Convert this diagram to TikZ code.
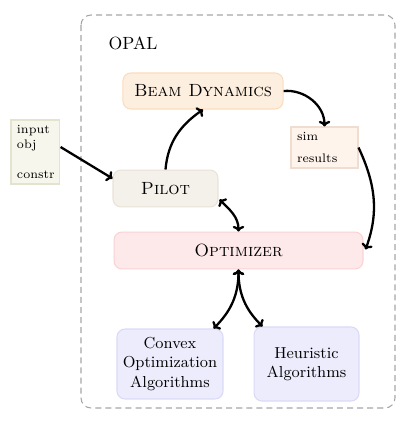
\documentclass[tikz,border=0pt]{standalone}
\usetikzlibrary{arrows.meta,calc}
\definecolor{beamfill}{HTML}{FDEFE0}\definecolor{beamdraw}{HTML}{FADCBD}
\definecolor{pilotfill}{HTML}{F4F0EA}\definecolor{pilotdraw}{HTML}{EAE2D7}
\definecolor{optfill}{HTML}{FDE9EA}\definecolor{optdraw}{HTML}{F9D2D4}
\definecolor{algfill}{HTML}{ECECFC}\definecolor{algdraw}{HTML}{DADAF7}
\definecolor{inpfill}{HTML}{F6F6EC}\definecolor{inpdraw}{HTML}{E3E3D0}
\definecolor{simfill}{HTML}{FEF4EC}\definecolor{simdraw}{HTML}{EEDDD0}
\tikzset{
  x=0.566pt,y=0.566pt,
  mainbox/.style={rectangle,rounded corners=4.5pt,line width=0.6pt,inner sep=0pt,align=center},
  databox/.style={rectangle,line width=0.6pt,inner xsep=3.4pt,inner ysep=0pt,align=left,font=\scriptsize},
  arr/.style={line width=1.3pt,-{To[length=3.2pt,width=6.5pt]}},
  darr/.style={line width=1.3pt,{To[length=3.2pt,width=6.5pt]}-{To[length=3.2pt,width=6.5pt]}},
}
\begin{document}
\begin{tikzpicture}
\useasboundingbox (0,0) rectangle (416,-429);
\draw[gray!70,line width=0.6pt,dash pattern=on 3.4pt off 2.3pt,rounded corners=5.7pt] (81,-15) rectangle (395,-408);
\node (opal) at (133,-43) {OPAL};
\node[mainbox,fill=beamfill,draw=beamdraw,minimum width=90.6pt,minimum height=20.4pt] (beam) at (203,-91) {\textsc{Beam Dynamics}};
\node[mainbox,fill=pilotfill,draw=pilotdraw,minimum width=59.4pt,minimum height=20.9pt] (pilot) at (165.5,-188.5) {\textsc{Pilot}};
\node[mainbox,fill=optfill,draw=optdraw,minimum width=140.9pt,minimum height=20.9pt] (opt) at (238.5,-250.5) {\textsc{Optimizer}};
\node[mainbox,fill=algfill,draw=algdraw,minimum width=60pt,minimum height=39.6pt,font=\small] (convex) at (170,-364) {Convex\\Optimization\\Algorithms};
\node[mainbox,fill=algfill,draw=algdraw,minimum width=59.4pt,minimum height=41.9pt,font=\small] (heur) at (306.5,-364) {Heuristic\\Algorithms};
\node[databox,fill=inpfill,draw=inpdraw,text width=20.4pt,minimum height=36.2pt] (inp) at (35,-152) {input\\obj\\[9pt]constr};
\node[databox,fill=simfill,draw=simdraw,text width=31.1pt,minimum height=23.2pt] (sim) at (324.5,-147.5) {sim\\[4.5pt]results};
\draw[arr] ($(inp.east)+(1,5)$) -- ($(pilot.west)+(0,10)$);
\draw[arr] (pilot.north) to[out=85,in=215] (beam.south);
\draw[arr] (beam.east) to[out=5,in=90] (sim.north);
\draw[arr] (sim.east) to[out=-65,in=70] ($(opt.east)+(2,1)$);
\draw[darr] ($(pilot.south east)+(1,8)$) to[out=-45,in=90] (opt.north);
\draw[darr] (opt.south) to[out=-90,in=45] ($(convex.north east)+(-10,0)$);
\draw[darr] (opt.south) to[out=-90,in=135] ($(heur.north west)+(9,0)$);
\end{tikzpicture}
\end{document}
